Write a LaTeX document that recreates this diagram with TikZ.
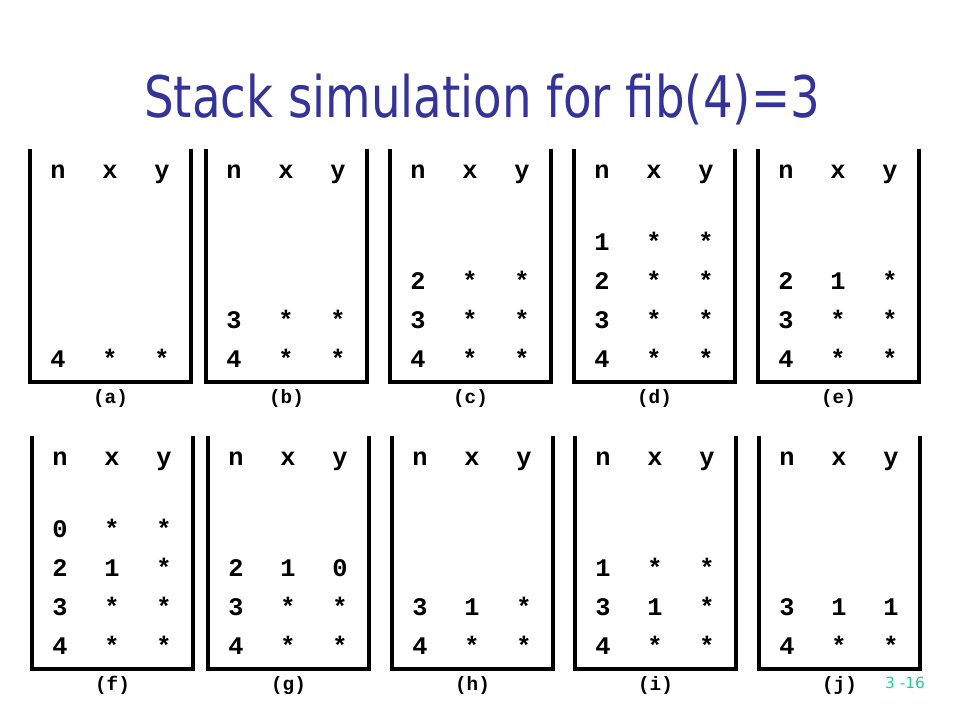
\documentclass[tikz,border=0pt]{standalone}
\usepackage{fontspec}
\newfontfamily\monofont{Liberation Mono}
\newfontfamily\titlefont[FakeStretch=0.815]{DejaVu Sans}
\newfontfamily\pagefont{DejaVu Sans}
\definecolor{titleblue}{RGB}{51,51,153}
\definecolor{pagegreen}{RGB}{30,208,150}
\tikzset{
  stackline/.style={line width=2.6pt, line join=miter},
  cell/.style={font=\monofont\bfseries\fontsize{19}{21}\selectfont, inner sep=0pt, anchor=center, text height=0.62em, text depth=0pt},
  lab/.style={font=\monofont\bfseries\fontsize{14.5}{16}\selectfont, inner sep=0pt, anchor=center, text height=0.62em, text depth=0pt},
}
\newcommand\drawstack[5]{%
  \coordinate (#1tl) at (#2,#3);
  \coordinate (#1bl) at (#2,#3+233);
  \coordinate (#1br) at (#2+161,#3+233);
  \coordinate (#1tr) at (#2+161,#3);
  \draw[stackline] (#1tl) -- (#1bl) -- (#1br) -- (#1tr);
  \node[cell] (#1hn) at (#2+28,#3+25) {n};
  \node[cell] (#1hx) at (#2+80,#3+25) {x};
  \node[cell] (#1hy) at (#2+132,#3+25) {y};
  \foreach \r/\a/\b/\c in {#5}{%
    \node[cell] (#1n\r) at (#2+28,#3+97+39*\r-39) {\a};
    \node[cell] (#1x\r) at (#2+80,#3+97+39*\r-39) {\b};
    \node[cell] (#1y\r) at (#2+132,#3+97+39*\r-39) {\c};
  }
  \node[lab] (#1lab) at (#2+80.5,#3+250) {(#4)};
}
\begin{document}
\begin{tikzpicture}[x=0.75pt,y=-0.75pt]
\useasboundingbox (0,0) rectangle (960,720);
\node[anchor=base, inner sep=0pt, text=titleblue, font=\titlefont\fontsize{43}{48}\selectfont] (title) at (482,118) {Stack simulation for fib(4)=3};
\drawstack{a}{30}{149}{a}{4/4/*/*}
\drawstack{b}{206}{149}{b}{3/3/*/*,4/4/*/*}
\drawstack{c}{390}{149}{c}{2/2/*/*,3/3/*/*,4/4/*/*}
\drawstack{d}{574}{149}{d}{1/1/*/*,2/2/*/*,3/3/*/*,4/4/*/*}
\drawstack{e}{758}{149}{e}{2/2/1/*,3/3/*/*,4/4/*/*}
\drawstack{f}{32}{436}{f}{1/0/*/*,2/2/1/*,3/3/*/*,4/4/*/*}
\drawstack{g}{208}{436}{g}{2/2/1/0,3/3/*/*,4/4/*/*}
\drawstack{h}{392}{436}{h}{3/3/1/*,4/4/*/*}
\drawstack{i}{575}{436}{i}{2/1/*/*,3/3/1/*,4/4/*/*}
\drawstack{j}{759}{436}{j}{3/3/1/1,4/4/*/*}
\node[anchor=base, inner sep=0pt, text=pagegreen, font=\pagefont\fontsize{11.5}{13}\selectfont] (pagenum) at (905,688) {3 -16};
\end{tikzpicture}
\end{document}
